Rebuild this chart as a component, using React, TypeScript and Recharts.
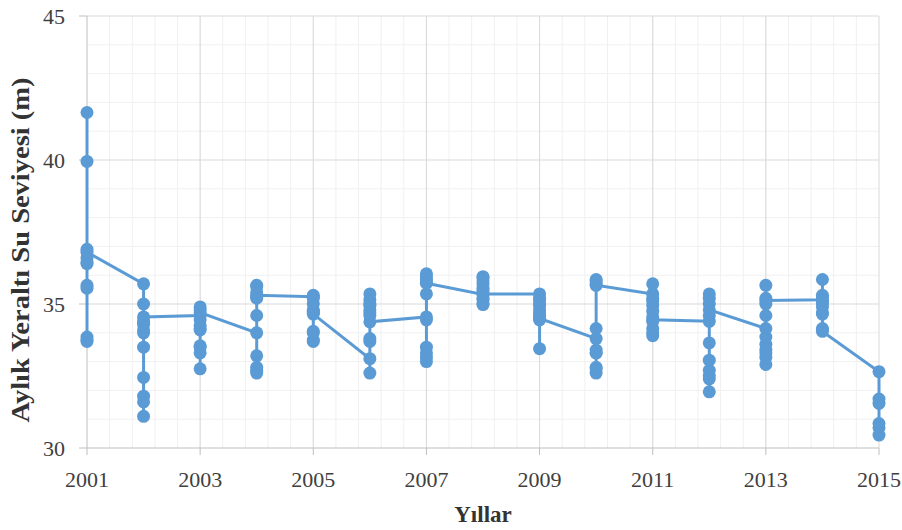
import { ScatterChart, Scatter, XAxis, YAxis, CartesianGrid, Label } from "recharts";

// monthly groundwater levels (m), one array per year, Jan..Dec
const years = [2001, 2002, 2003, 2004, 2005, 2006, 2007, 2008, 2009, 2010, 2011, 2012, 2013, 2014, 2015];
const level2001 = [41.65, 39.95, 36.9, 36.6, 36.4, 35.65, 35.55, 33.85, 33.7, 33.75, 36.45, 36.8];
const level2002 = [35.7, 35.0, 34.3, 34.0, 33.5, 32.45, 31.8, 31.1, 31.6, 34.1, 34.4, 34.55];
const level2003 = [34.6, 34.9, 34.8, 34.45, 34.25, 34.1, 33.5, 33.3, 32.75, 33.55, 34.15, 34.7];
const level2004 = [34.0, 33.2, 32.8, 32.6, 32.7, 34.6, 35.2, 35.65, 35.6, 35.4, 35.25, 35.3];
const level2005 = [35.25, 35.3, 35.2, 35.0, 34.8, 34.05, 33.7, 33.75, 34.0, 34.75, 34.7, 34.65];
const level2006 = [33.1, 32.6, 33.7, 33.8, 34.7, 34.8, 35.0, 35.15, 35.35, 34.95, 34.6, 34.38];
const level2007 = [34.55, 34.45, 33.5, 33.3, 33.15, 33.0, 35.35, 35.85, 36.05, 35.95, 35.75, 35.72];
const level2008 = [35.33, 35.55, 35.8, 35.95, 35.9, 35.7, 35.45, 35.15, 35.0, 34.98, 35.2, 35.35];
const level2009 = [35.35, 35.15, 34.95, 34.8, 33.45, 34.6, 34.45, 34.7, 35.0, 35.2, 34.55, 34.5];
const level2010 = [33.8, 33.4, 33.3, 32.8, 32.6, 32.75, 33.3, 34.15, 35.8, 35.85, 35.7, 35.65];
const level2011 = [35.35, 35.1, 34.95, 34.75, 34.55, 34.15, 33.9, 34.0, 34.4, 35.7, 35.2, 34.45];
const level2012 = [34.4, 33.65, 33.05, 32.7, 32.4, 31.95, 32.5, 35.0, 35.35, 35.2, 34.6, 34.8];
const level2013 = [34.15, 33.85, 33.6, 33.4, 33.15, 32.9, 33.3, 34.6, 35.65, 35.0, 35.2, 35.12];
const level2014 = [35.15, 35.3, 35.85, 35.0, 34.7, 34.9, 35.25, 35.1, 34.65, 34.15, 34.1, 34.05];
const level2015 = [32.65, 31.7, 31.55, 30.85, 30.7, 30.45];

const monthlyLevels = [
  level2001, level2002, level2003, level2004, level2005, level2006, level2007, level2008,
  level2009, level2010, level2011, level2012, level2013, level2014, level2015,
];

const xTicks = [2001, 2003, 2005, 2007, 2009, 2011, 2013, 2015];
const yTicks = [30, 35, 40, 45];
const yMinor = [31, 32, 33, 34, 36, 37, 38, 39, 41, 42, 43, 44];
const xMinor: number[] = [];
for (let i = 1; i < 35; i++) xMinor.push(2001 + i * 0.4);

const points = years.flatMap((year, i) => monthlyLevels[i].map((level) => ({ year, level })));

const BLUE = "#5b9bd5";
const SERIF = "Liberation Serif";

const Dot = (props: any) => <circle cx={props.cx} cy={props.cy} r={6.5} fill={BLUE} />;

const XTick = ({ x, y, payload }: any) => (
  <text x={x} y={y} dy="0.71em" textAnchor="middle" fontFamily={SERIF} fontSize={22} fill="#404040">
    {payload.value}
  </text>
);

const YTick = ({ x, y, payload }: any) => (
  <text x={x} y={y} dy="0.355em" textAnchor="end" fontFamily={SERIF} fontSize={22} fill="#404040">
    {payload.value}
  </text>
);

const XTitle = ({ viewBox }: any) => (
  <text
    x={viewBox.x + viewBox.width / 2}
    y={viewBox.y + 74}
    textAnchor="middle"
    fontFamily={SERIF}
    fontWeight="bold"
    fontSize={23}
    fill="#333"
  >
    Yıllar
  </text>
);

const YTitle = ({ viewBox }: any) => {
  const cx = viewBox.x + 20;
  const cy = viewBox.y + viewBox.height / 2 + 18;
  return (
    <text
      x={cx}
      y={cy}
      transform={`rotate(-90, ${cx}, ${cy})`}
      textAnchor="middle"
      dominantBaseline="central"
      fontFamily={SERIF}
      fontWeight="bold"
      fontSize={26}
      fill="#333"
      textLength={345}
      lengthAdjust="spacingAndGlyphs"
    >
      Aylık Yeraltı Su Seviyesi (m)
    </text>
  );
};

export default function App() {
  return (
    <div style={{ position: "absolute", left: 0, top: 0 }}>
      <ScatterChart width={902} height={530} margin={{ top: 16, right: 23, bottom: 0, left: 0 }}>
        <CartesianGrid stroke="#f0f0f0" horizontalValues={yMinor} verticalValues={xMinor} />
        <CartesianGrid stroke="#d9d9d9" horizontalValues={[35, 40, 45]} verticalValues={xTicks.slice(1)} />
        <XAxis
          dataKey="year"
          type="number"
          domain={[2001, 2015]}
          ticks={xTicks}
          interval={0}
          height={82}
          axisLine={{ stroke: "#bfbfbf" }}
          tickLine={{ stroke: "#bfbfbf" }}
          tickSize={7}
          tickMargin={16}
          tick={XTick}
        >
          <Label content={XTitle} />
        </XAxis>
        <YAxis
          dataKey="level"
          type="number"
          domain={[30, 45]}
          ticks={yTicks}
          interval={0}
          width={87}
          axisLine={{ stroke: "#bfbfbf" }}
          tickLine={{ stroke: "#bfbfbf" }}
          tickSize={8}
          tickMargin={14}
          tick={YTick}
        >
          <Label content={YTitle} />
        </YAxis>
        <Scatter
          data={points}
          line={{ stroke: BLUE, strokeWidth: 3 }}
          shape={Dot}
          isAnimationActive={false}
        />
      </ScatterChart>
    </div>
  );
}
